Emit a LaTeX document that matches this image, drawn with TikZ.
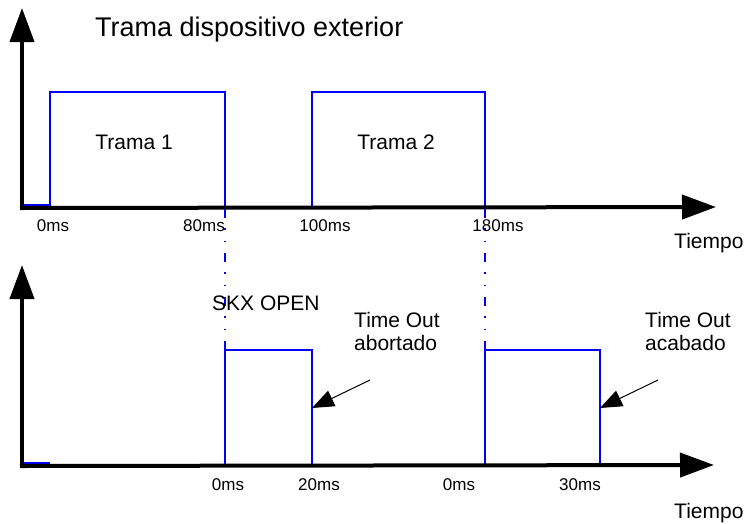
\documentclass[tikz,border=0pt]{standalone}
\usepackage{fontspec}
\setmainfont{Liberation Sans}
\usetikzlibrary{arrows.meta}
\begin{document}
\begin{tikzpicture}[x=1pt,y=-1pt,
  axis/.style={line width=4pt,-{Triangle[length=34pt,width=24pt]}},
  sig/.style={blue,line width=1.4pt},
  guide/.style={blue,line width=1.2pt,dash pattern=on 9pt off 10pt on 1.5pt off 11pt on 1.5pt off 11pt},
  call/.style={line width=1pt,-{Triangle[length=22pt,width=17pt]}},
  tick/.style={font=\fontsize{17}{19}\selectfont,anchor=base},
  lab/.style={font=\fontsize{21}{23}\selectfont,anchor=base west,align=left,inner sep=0pt},
  lbl/.style={font=\fontsize{21}{23}\selectfont,anchor=base,inner sep=0pt}]
\useasboundingbox (0,0) rectangle (747,523);
% top chart
\coordinate (o1) at (22,207);
\coordinate (y1) at (22,8);
\coordinate (x1) at (716,207);
\draw[sig] (22,205) -- (50,205) -- (50,92) -- (225,92) -- (225,207);
\draw[sig] (312,207) -- (312,92) -- (485,92) -- (485,207);
\draw[axis] (22,209) -- (y1);
\draw[axis] (20,208) -- (x1);
\node[font=\fontsize{27}{29}\selectfont,anchor=base west,inner sep=0pt] (title) at (95,36) {Trama dispositivo exterior};
\node[lbl] (t1) at (134,149) {Trama 1};
\node[lbl] (t2) at (396,149) {Trama 2};
\node[tick] (a0) at (53,231) {0ms};
\node[tick] (a80) at (204,231) {80ms};
\node[tick] (a100) at (325,231) {100ms};
\node[tick] (a180) at (498,231) {180ms};
\node[lbl,anchor=base west] (tm1) at (674,248) {Tiempo};
% guides
\draw[guide] (225,209) -- (225,350);
\draw[guide] (485,209) -- (485,350);
% bottom chart
\coordinate (y2) at (22,265);
\coordinate (x2) at (714,465);
\draw[sig] (22,463) -- (50,463);
\draw[sig] (225,465) -- (225,350) -- (312,350) -- (312,465);
\draw[sig] (485,465) -- (485,350) -- (600,350) -- (600,465);
\draw[axis] (22,467) -- (y2);
\draw[axis] (20,466) -- (x2);
\node[lab] (skx) at (212,310) {SKX OPEN};
\node[lab] (ab) at (354,350) {Time Out\\abortado};
\node[lab] (ac) at (645,350) {Time Out\\acabado};
\node[tick] (b0) at (228,490) {0ms};
\node[tick] (b20) at (319,490) {20ms};
\node[tick] (c0) at (459,490) {0ms};
\node[tick] (c30) at (580,490) {30ms};
\node[lbl,anchor=base west] (tm2) at (674,518) {Tiempo};
% callouts
\coordinate (abt) at (370,380);
\coordinate (abh) at (312,408);
\coordinate (act) at (658,380);
\coordinate (ach) at (600,408);
\draw[call] (abt) -- (abh);
\draw[call] (act) -- (ach);
\end{tikzpicture}
\end{document}
